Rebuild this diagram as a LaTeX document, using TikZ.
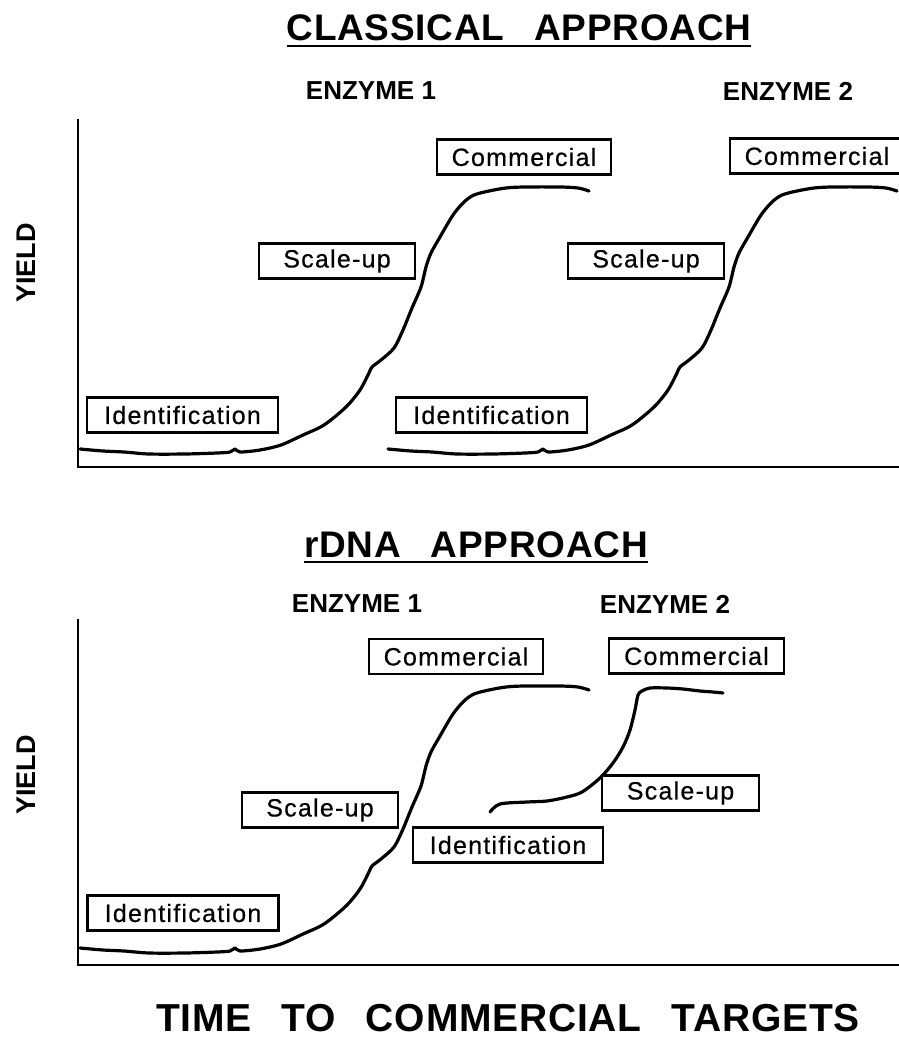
\documentclass[tikz,border=0pt]{standalone}
\usepackage{fontspec}
\setmainfont{Liberation Sans}
\newfontfamily\boxfont[LetterSpace=5,FakeBold=0.5]{Liberation Sans}
\newfontfamily\headfont[LetterSpace=2]{Liberation Sans}
\tikzset{
  stage/.style={draw, line width=2.3pt, inner sep=0pt, minimum height=35pt,
    font=\boxfont\fontsize{25}{28}\selectfont},
  heading/.style={inner sep=0pt, font=\headfont\bfseries\fontsize{37}{40}\selectfont},
  caption/.style={inner sep=0pt, font=\headfont\bfseries\fontsize{39}{42}\selectfont},
  enzyme/.style={inner sep=0pt, font=\bfseries\fontsize{26}{30}\selectfont},
  axislabel/.style={inner sep=0pt, rotate=90, font=\bfseries\fontsize{27}{30}\selectfont},
  axis/.style={line width=2.6pt, line cap=rect},
  growth/.style={line width=3.2pt, line cap=round, line join=round},
  rule/.style={line width=2.8pt}
}
\begin{document}
\begin{tikzpicture}[x=1pt,y=-1pt]
\useasboundingbox (0,0) rectangle (899,1041);

% ---------- classical approach ----------
\node[heading, anchor=base] (th) at (519,41) {CLASSICAL\hspace{30pt}APPROACH};
\draw[rule] ([yshift=-5pt]th.base west) -- ([yshift=-5pt]th.base east);
\node[enzyme] (te1) at (371,91) {ENZYME 1};
\node[enzyme] (te2) at (788,91) {ENZYME 2};
\node[axislabel] (ty) at (26,263) {YIELD};
\draw[axis] (78,120) -- (78,467) -- (899,467);

\node[stage, minimum width=191pt] (tid1) at (182.5,415) {Identification};
\node[stage, minimum width=191pt] (tid2) at (491.5,415) {Identification};
\node[stage, minimum width=156pt] (tsu1) at (337,261) {Scale-up};
\node[stage, minimum width=156pt] (tsu2) at (646,261) {Scale-up};
\node[stage, minimum width=174pt] (tcm1) at (524,157) {Commercial};
\node[stage, minimum width=174pt] (tcm2) at (817,156) {Commercial};

\def\sigmoid{plot[smooth, tension=0.5] coordinates {
  (80,449) (103,451) (124,452) (149,454) (185,454) (217,453) (230,452)
  (235,449) (240,452) (260,450) (281,445) (303,435) (324,425) (346,407)
  (360,390) (369,373) (372,367) (381,360) (394,348) (403,330) (412,308)
  (421,287) (426,267) (431,253) (440,237) (453,215) (464,202) (474,195)
  (489,191) (506,188) (524,187) (560,187) (578,188) (589,191)}}
\draw[growth] \sigmoid;
\draw[growth, shift={(308,0)}] \sigmoid;

% ---------- rDNA approach ----------
\node[heading, anchor=base] (bh) at (476,557) {rDNA\hspace{30pt}APPROACH};
\draw[rule] ([yshift=-5pt]bh.base west) -- ([yshift=-5pt]bh.base east);
\node[enzyme] (be1) at (357,604) {ENZYME 1};
\node[enzyme] (be2) at (665,604) {ENZYME 2};
\node[axislabel] (by) at (26,775) {YIELD};
\draw[axis] (78,620) -- (78,965) -- (899,965);

\node[stage, minimum width=191pt] (bid1) at (183,913) {Identification};
\node[stage, minimum width=190pt] (bid2) at (508,845) {Identification};
\node[stage, minimum width=156pt] (bsu1) at (320,810) {Scale-up};
\node[stage, minimum width=157pt] (bsu2) at (680.5,793) {Scale-up};
\node[stage, minimum width=174pt] (bcm1) at (456,656.5) {Commercial};
\node[stage, minimum width=175pt] (bcm2) at (696.5,656) {Commercial};

\draw[growth, shift={(0,499)}] \sigmoid;
\draw[growth] plot[smooth, tension=0.5] coordinates {
  (490,812) (500,804) (527,802) (547,801) (567,797) (582,792) (600,778)
  (613,763) (623,747) (630,730) (635,710) (638,695) (642,691) (650,688)
  (667,688) (683,689) (700,691) (713,692) (723,693)};

% ---------- time axis caption ----------
\node[caption, anchor=base] (tx) at (508,1031)
  {TIME\hspace{30pt}TO\hspace{30pt}COMMERCIAL\hspace{30pt}TARGETS};
\end{tikzpicture}
\end{document}
